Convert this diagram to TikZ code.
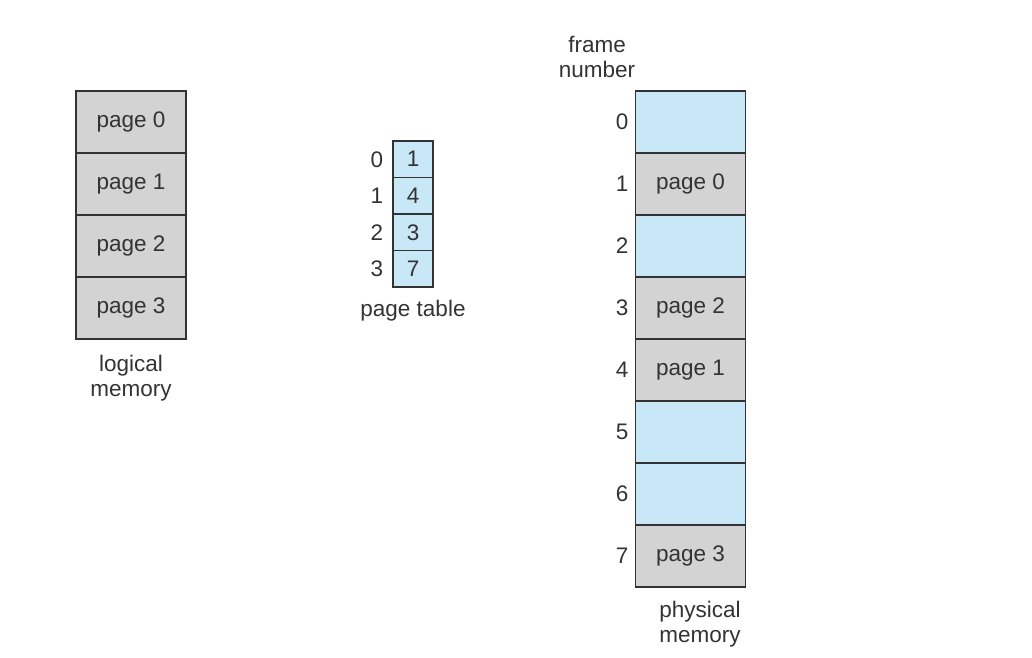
\documentclass[tikz,border=0pt]{standalone}
\usepackage{fontspec}
\setmainfont{Liberation Sans}
\usepackage{tikz}
\usetikzlibrary{positioning}
\definecolor{pagegray}{HTML}{D3D3D3}
\definecolor{frameblue}{HTML}{C8E8F8}
\definecolor{inkgray}{HTML}{333333}

\begin{document}
\begin{tikzpicture}[x=1pt, y=-1pt,
    every node/.style={text=inkgray, font=\fontsize{22.5}{25.5}\selectfont},
    pagecell/.style={draw=inkgray, line width=1.4pt, fill=pagegray, minimum width=110pt, minimum height=62pt, inner sep=0pt},
    freecell/.style={pagecell, fill=frameblue},
    tabcell/.style={draw=inkgray, line width=1.4pt, fill=frameblue, minimum width=40pt, minimum height=36.5pt, inner sep=0pt},
    caption/.style={align=center}]
    \useasboundingbox (0,0) rectangle (1032,657);

    % logical memory
    \node[pagecell] (lp0) at (131,122) {page 0};
    \node[pagecell] (lp1) at (131,184) {page 1};
    \node[pagecell] (lp2) at (131,246) {page 2};
    \node[pagecell] (lp3) at (131,308) {page 3};
    \node[caption] (lcap) at (131,378) {logical\\memory};

    % page table
    \node[tabcell] (pt0) at (413,159.25) {1};
    \node[tabcell] (pt1) at (413,195.75) {4};
    \node[tabcell] (pt2) at (413,232.25) {3};
    \node[tabcell] (pt3) at (413,268.75) {7};
    \node (pi0) at (377,159.25) {0};
    \node (pi1) at (377,195.75) {1};
    \node (pi2) at (377,232.25) {2};
    \node (pi3) at (377,268.75) {3};
    \node[caption] (ptcap) at (413,311) {page table};

    % physical memory
    \node[caption] (fncap) at (597,57) {frame\\number};
    \node[freecell] (fr0) at (690.5,122) {};
    \node[pagecell] (fr1) at (690.5,184) {page 0};
    \node[freecell] (fr2) at (690.5,246) {};
    \node[pagecell] (fr3) at (690.5,308) {page 2};
    \node[pagecell] (fr4) at (690.5,370) {page 1};
    \node[freecell] (fr5) at (690.5,432) {};
    \node[freecell] (fr6) at (690.5,494) {};
    \node[pagecell] (fr7) at (690.5,556) {page 3};
    \node (fi0) at (622,122) {0};
    \node (fi1) at (622,184) {1};
    \node (fi2) at (622,246) {2};
    \node (fi3) at (622,308) {3};
    \node (fi4) at (622,370) {4};
    \node (fi5) at (622,432) {5};
    \node (fi6) at (622,494) {6};
    \node (fi7) at (622,556) {7};
    \node[caption] (pmcap) at (700,624) {physical\\memory};
\end{tikzpicture}
\end{document}
